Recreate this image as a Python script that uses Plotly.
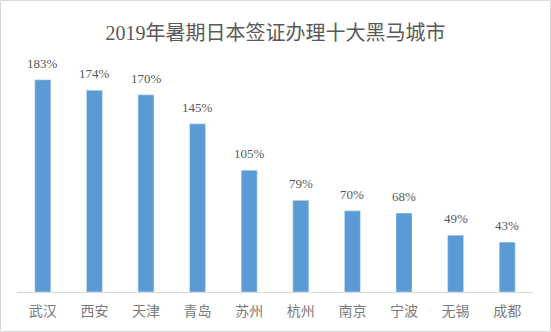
import plotly.graph_objects as go

cities = ["武汉", "西安", "天津", "青岛", "苏州", "杭州", "南京", "宁波", "无锡", "成都"]
growth = [183, 174, 170, 145, 105, 79, 70, 68, 49, 43]
labels = [f"{v}%" for v in growth]

W, H = 551, 332
ml, mr, mt, mb = 17, 18, 60, 40

fig = go.Figure(go.Bar(
    x=cities, y=growth,
    marker_color="#5B9BD5", width=0.31,
))

for c, v, t in zip(cities, growth, labels):
    fig.add_annotation(x=c, y=v, text=t, showarrow=False, yanchor="bottom",
                       yshift=7,
                       font=dict(family="Liberation Serif, Noto Sans CJK SC",
                                 size=13, color="#595959"))

pw = W - ml - mr
ph = H - mt - mb
fig.update_layout(
    width=W, height=H,
    margin=dict(l=ml, r=mr, t=mt, b=mb),
    paper_bgcolor="white", plot_bgcolor="white",
    title=dict(text="2019年暑期日本签证办理十大黑马城市", x=0.5, xanchor="center",
               y=1 - 33 / H, yanchor="middle",
               font=dict(family="Liberation Serif, Noto Sans CJK SC", size=20, color="#595959")),
    xaxis=dict(showline=True, linecolor="#D9D9D9", linewidth=1, ticks="",
               ticklabelstandoff=6,
               tickfont=dict(family="Noto Sans CJK SC", size=14, color="#7a7a7a")),
    yaxis=dict(range=[0, 200], visible=False, showgrid=False),
    showlegend=False,
    shapes=[dict(type="rect", xref="paper", yref="paper",
                 x0=(-ml + 0.5) / pw, x1=1 + (mr - 0.5) / pw,
                 y0=(-mb + 0.5) / ph, y1=1 + (mt - 0.5) / ph,
                 line=dict(color="#D9D9D9", width=1))],
)
fig.write_html("out.html")
